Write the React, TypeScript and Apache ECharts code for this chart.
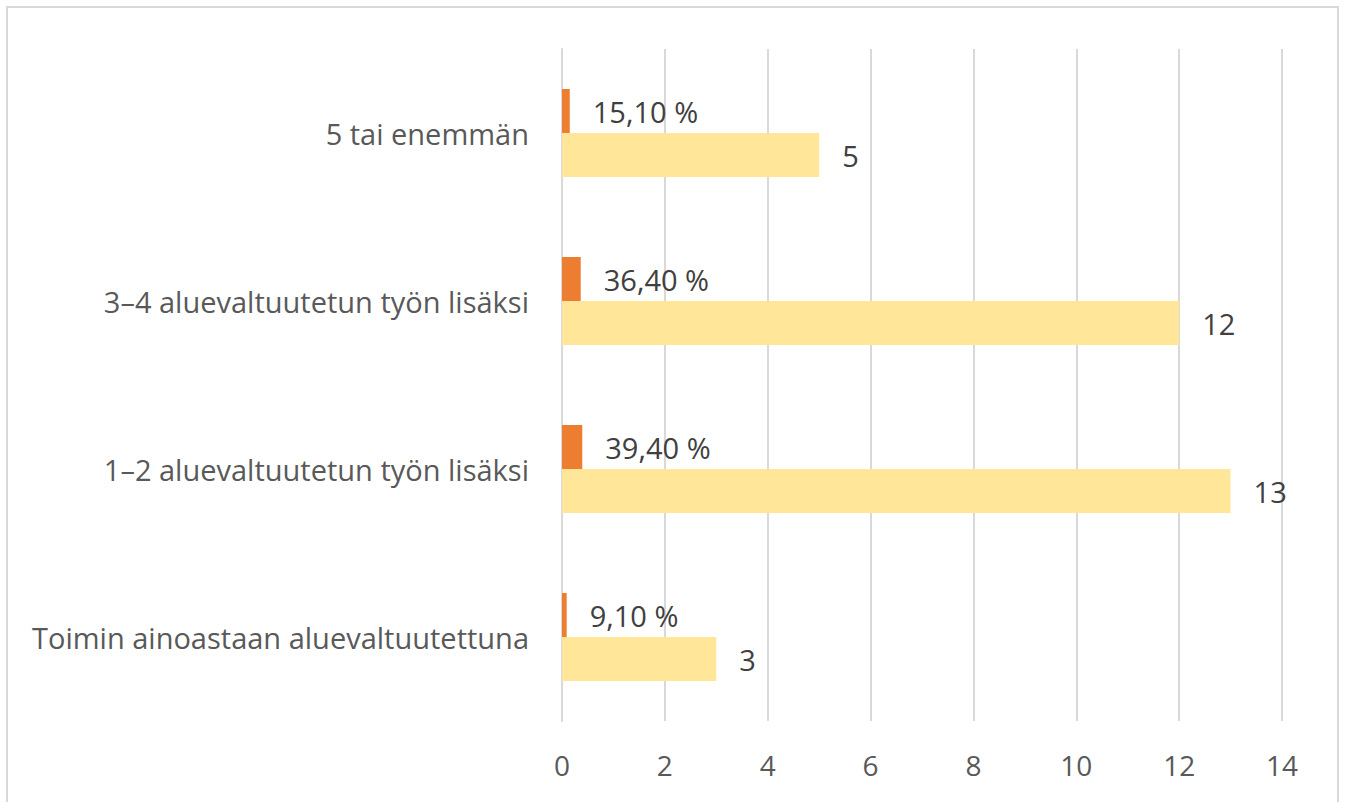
import React, { useEffect, useRef } from "react";
import * as echarts from "echarts";

const categories = [
  "Toimin ainoastaan aluevaltuutettuna",
  "1–2 aluevaltuutetun työn lisäksi",
  "3–4 aluevaltuutetun työn lisäksi",
  "5 tai enemmän",
];
const counts = [3, 13, 12, 5];
const percents = [9.1, 39.4, 36.4, 15.1];
const xTicks = [0, 2, 4, 6, 8, 10, 12, 14];

const FONT = "'Open Sans', 'Noto Sans', sans-serif";

export default function App() {
  const ref = useRef<HTMLDivElement>(null);
  useEffect(() => {
    document.body.style.margin = "0";
    const chart = echarts.init(ref.current!, undefined, { renderer: "svg" });
    chart.setOption({
      animation: false,
      textStyle: { fontFamily: FONT },
      graphic: [
        {
          type: "rect",
          shape: { x: 7, y: 7, width: 1331, height: 800 },
          style: { fill: "none", stroke: "#d9d9d9", lineWidth: 2 },
          silent: true,
        },
      ],
      grid: { left: 562, right: 64, top: 49, bottom: 81 },
      xAxis: {
        type: "value",
        min: xTicks[0],
        max: xTicks[xTicks.length - 1],
        interval: 2,
        axisLine: { show: false },
        axisTick: { show: false },
        splitLine: { show: true, lineStyle: { color: "#d9d9d9", width: 2 } },
        axisLabel: {
          color: "#595959",
          fontSize: 28,
          fontFamily: FONT,
          margin: 30,
        },
      },
      yAxis: {
        type: "category",
        data: categories,
        axisLine: { show: true, lineStyle: { color: "#d9d9d9", width: 2 } },
        axisTick: { show: false },
        axisLabel: {
          color: "#595959",
          fontSize: 29,
          fontFamily: FONT,
          margin: 33,
        },
      },
      series: [
        {
          name: "Osuus",
          type: "bar",
          data: percents.map((p) => p / 100),
          barWidth: 44,
          barGap: "0%",
          itemStyle: { color: "#ED7D31" },
          label: {
            show: true,
            position: "right",
            distance: 23,
            color: "#404040",
            fontSize: 29,
            fontFamily: FONT,
            formatter: (p: any) =>
              percents[p.dataIndex].toFixed(2).replace(".", ",") + " %",
          },
        },
        {
          name: "Määrä",
          type: "bar",
          data: counts,
          barWidth: 44,
          barGap: "0%",
          itemStyle: { color: "#FFE699" },
          label: {
            show: true,
            position: "right",
            distance: 23,
            color: "#404040",
            fontSize: 29,
            fontFamily: FONT,
          },
        },
      ],
    });
    return () => chart.dispose();
  }, []);
  return <div ref={ref} style={{ width: 1346, height: 802 }} />;
}
